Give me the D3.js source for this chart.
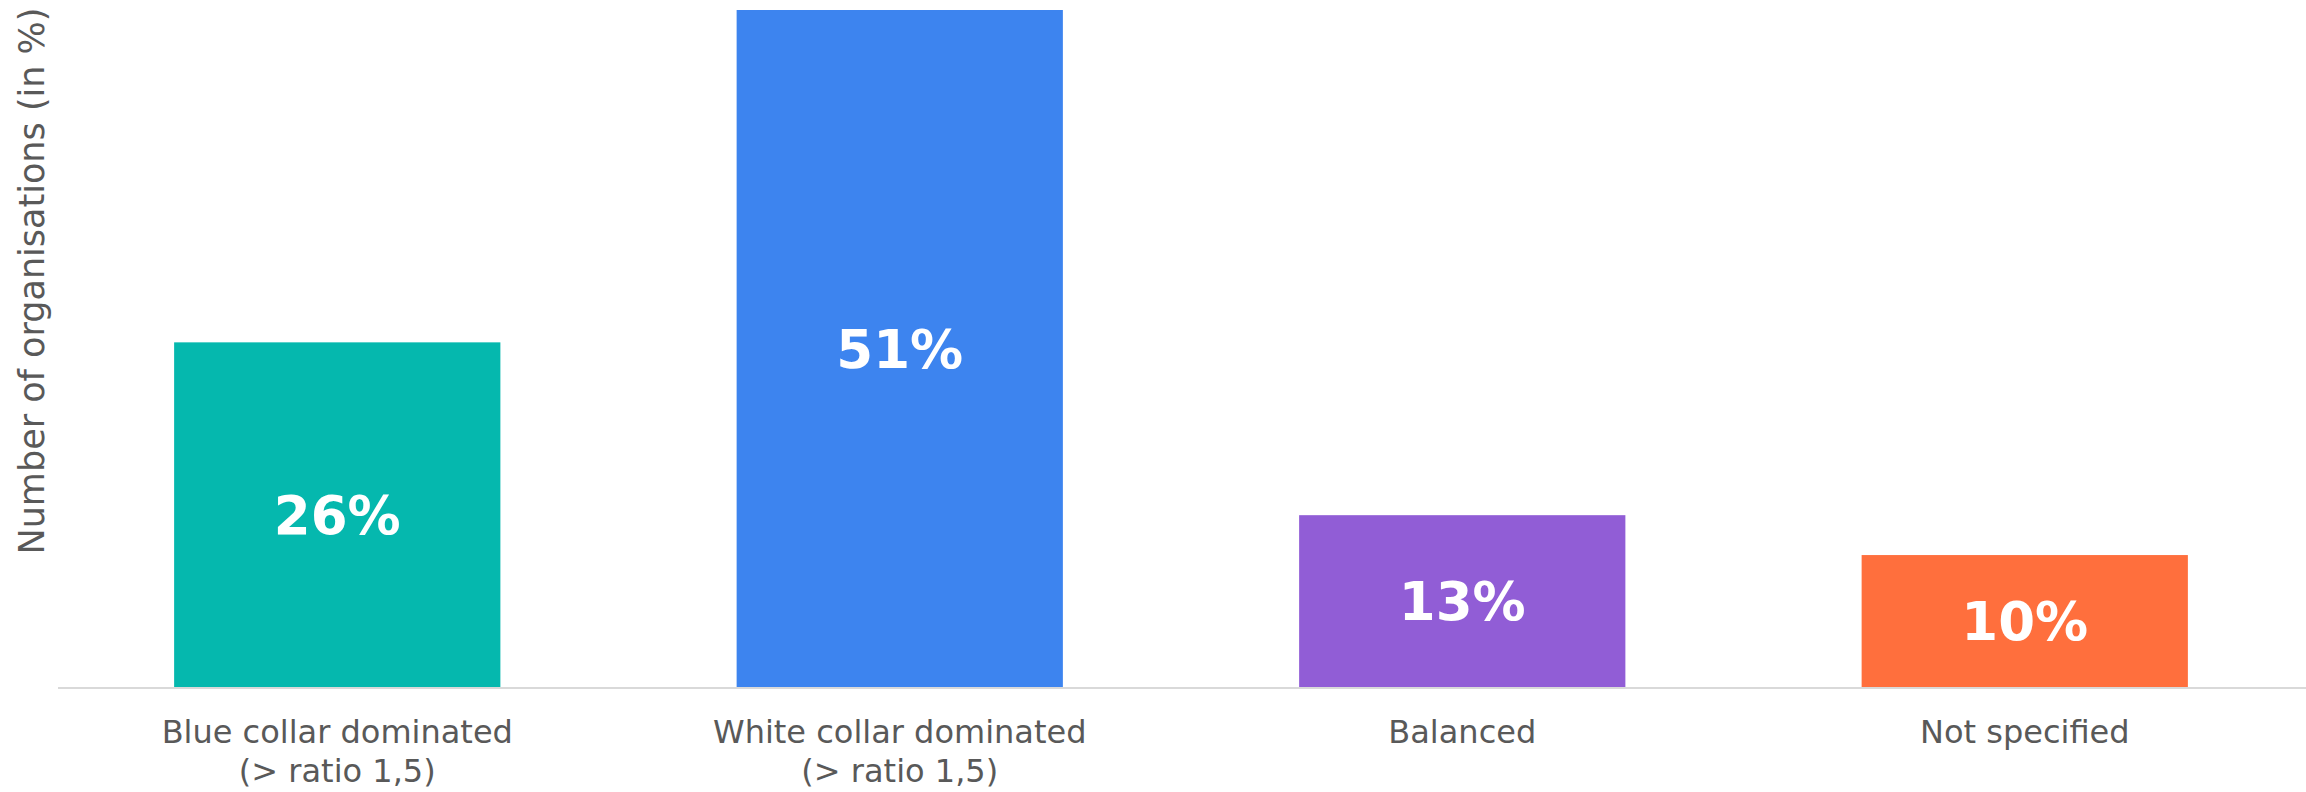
<!DOCTYPE html>
<html>
<head>
<meta charset="utf-8">
<script src="https://cdn.jsdelivr.net/npm/d3@7"></script>
<style>
  body { margin: 0; background: #fff; }
  svg { display: block; }
</style>
</head>
<body>
<div id="chart"></div>
<script>
// chart data
const categories = ["Blue collar dominated\n(> ratio 1,5)", "White collar dominated\n(> ratio 1,5)", "Balanced", "Not specified"];
const values = [26, 51, 13, 10];
const barColors = ["#05b8ae", "#3d84ef", "#915dd6", "#ff6f3d"];
const yLabel = "Number of organisations (in %)";

let width = 2306;
let height = 792;
let margin = { top: 10, right: 0, bottom: 104, left: 56 };

let svg = d3.select("#chart")
    .append("svg")
    .attr("width", width)
    .attr("height", height);

let x = d3.scaleBand()
    .domain(categories)
    .range([margin.left, width - margin.right])
    .paddingInner(0.42)
    .paddingOuter(0.21);

let y = d3.scaleLinear()
    .domain([0, d3.max(values)])
    .range([height - margin.bottom, margin.top]);

const data = categories.map((c, i) => ({ cat: c, value: values[i], color: barColors[i] }));

// bars
svg.append("g")
    .selectAll("rect")
    .data(data)
    .enter()
    .append("rect")
        .attr("x", d => x(d.cat))
        .attr("y", d => y(d.value))
        .attr("width", x.bandwidth())
        .attr("height", d => y(0) - y(d.value))
        .attr("fill", d => d.color);

// value labels in the middle of each bar
svg.append("g")
    .selectAll("text")
    .data(data)
    .enter()
    .append("text")
        .attr("x", d => x(d.cat) + x.bandwidth() / 2)
        .attr("y", d => (y(d.value) + y(0)) / 2)
        .attr("text-anchor", "middle")
        .attr("dominant-baseline", "central")
        .attr("fill", "white")
        .style("font-family", "'DejaVu Sans', Verdana, sans-serif")
        .style("font-weight", "bold")
        .style("font-size", "53px")
        .text(d => d.value + "%");

// x axis, only the baseline and the category names
let xAxis = d3.axisBottom(x).tickSize(0).tickFormat("");
let gx = svg.append("g")
    .attr("transform", "translate(0," + y(0) + ")")
    .call(xAxis);
gx.select(".domain")
    .attr("stroke", "#d9d9d9")
    .attr("stroke-width", 2)
    .attr("d", "M58,0H" + width);

gx.selectAll(".tick")
    .append("text")
    .attr("fill", "#595959")
    .attr("text-anchor", "middle")
    .style("font-family", "'DejaVu Sans', Verdana, sans-serif")
    .style("font-size", "32px")
    .each(function(d) {
        let lines = d.split("\n");
        let t = d3.select(this);
        lines.forEach((l, i) => {
            t.append("tspan")
                .attr("x", 0)
                .attr("y", 55 + i * 39)
                .text(l);
        });
    });

// y axis title
svg.append("text")
    .attr("transform", "translate(44," + 281 + ") rotate(-90)")
    .attr("text-anchor", "middle")
    .attr("fill", "#595959")
    .style("font-family", "'DejaVu Sans', Verdana, sans-serif")
    .style("font-size", "35px")
    .text(yLabel);
</script>
</body>
</html>
